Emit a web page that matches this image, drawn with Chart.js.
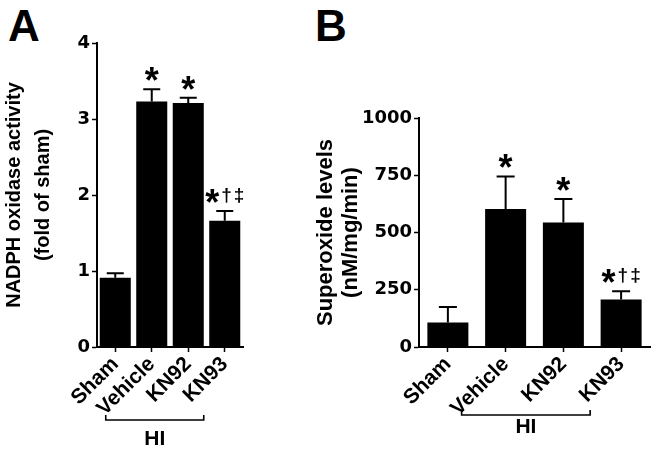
<!DOCTYPE html>
<html>
<head>
<meta charset="utf-8">
<script src="https://cdn.jsdelivr.net/npm/chart.js@4.4.1/dist/chart.umd.min.js"></script>
<style>
  html, body { margin: 0; padding: 0; background: #fff; }
  body { width: 657px; height: 452px; position: relative; overflow: hidden;
         font-family: "Liberation Sans", Arial, sans-serif; }
  .letter { position: absolute; top: 4px; font-weight: bold; font-size: 44px; line-height: 1; color: #000; }
  .wrap { position: absolute; top: 0; height: 452px; }
  #wrapA { left: 0; width: 320px; }
  #wrapB { left: 310px; width: 347px; }
</style>
</head>
<body>
<div class="letter" style="left:8px">A</div>
<div class="letter" style="left:315px">B</div>
<div class="wrap" id="wrapA"><canvas id="chartA" width="320" height="452"></canvas></div>
<div class="wrap" id="wrapB"><canvas id="chartB" width="347" height="452"></canvas></div>

<script>
// groups on the x axis
const GROUPS = ['Sham', 'Vehicle', 'KN92', 'KN93'];

// panel A - NADPH oxidase activity (fold of sham)
const NADPH_MEAN  = [0.91, 3.23, 3.21, 1.66];
const NADPH_SEM   = [0.06, 0.16, 0.07, 0.13];
const NADPH_MARKS = ['', '*', '*', '*†‡'];
const NADPH_TICKS = [0, 1, 2, 3, 4];

// panel B - superoxide levels (nM/mg/min)
const SUPEROXIDE_MEAN  = [107, 603, 544, 207];
const SUPEROXIDE_SEM   = [68, 142, 102, 36];
const SUPEROXIDE_MARKS = ['', '*', '*', '*†‡'];
const SUPEROXIDE_TICKS = [0, 250, 500, 750, 1000];

const BRACKET_LABEL = 'HI';
const FONT = '"Liberation Sans", Arial, sans-serif';

// error bars (upper half only), significance marks and the HI bracket
const extras = {
  id: 'extras',
  afterDatasetsDraw(chart, _args, o) {
    const { ctx, chartArea: a, scales: { x, y } } = chart;
    const meta = chart.getDatasetMeta(0);
    ctx.save();
    ctx.strokeStyle = '#000';
    ctx.fillStyle = '#000';
    ctx.lineWidth = 2;
    o.means.forEach((m, i) => {
      const cx = meta.data[i].x;
      const top = y.getPixelForValue(m + o.errors[i]);
      ctx.beginPath();
      ctx.moveTo(cx, y.getPixelForValue(m));
      ctx.lineTo(cx, top);
      ctx.moveTo(cx - o.cap / 2, top);
      ctx.lineTo(cx + o.cap / 2, top);
      ctx.stroke();
      if (o.marks[i]) drawMarks(ctx, o.marks[i], cx, top - o.markGap, o);
    });

    // bracket under the rotated labels
    const b = o.bracket;
    const x0 = x.getPixelForValue(b.from) + b.dxLeft;
    const x1 = x.getPixelForValue(b.to) + b.dxRight;
    const by = a.bottom + b.dy;
    ctx.lineWidth = 1.6;
    ctx.beginPath();
    ctx.moveTo(x0, by - b.tip);
    ctx.lineTo(x0, by);
    ctx.lineTo(x1, by);
    ctx.lineTo(x1, by - b.tip);
    ctx.stroke();
    ctx.font = `bold ${b.fontSize}px ${FONT}`;
    ctx.textAlign = 'center';
    ctx.textBaseline = 'alphabetic';
    ctx.fillText(BRACKET_LABEL, (x0 + x1) / 2 + b.labelDx, a.bottom + b.labelDy);
    ctx.restore();
  }
};

function drawMarks(ctx, text, cx, bottom, o) {
  const parts = [...text].map(ch => ({
    ch, font: ch === '*' ? `bold ${o.starSize}px ${FONT}` : `bold ${o.daggerSize}px ${FONT}`
  }));
  let total = 0;
  parts.forEach((p, i) => {
    ctx.font = p.font;
    const m = ctx.measureText(p.ch);
    p.w = m.width;
    p.desc = m.actualBoundingBoxDescent;
    total += p.w + (i ? o.markSpacing : 0);
  });
  ctx.textAlign = 'left';
  ctx.textBaseline = 'alphabetic';
  let xx = cx - total / 2;
  parts.forEach(p => {
    ctx.font = p.font;
    ctx.fillText(p.ch, xx, bottom - p.desc);
    xx += p.w + o.markSpacing;
  });
}

function makeChart(id, cfg) {
  return new Chart(document.getElementById(id), {
    type: 'bar',
    data: {
      labels: GROUPS,
      datasets: [{
        data: cfg.means,
        backgroundColor: '#000',
        borderWidth: 0,
        barPercentage: cfg.barPct,
        categoryPercentage: 1
      }]
    },
    options: {
      responsive: false,
      animation: false,
      events: [],
      layout: { padding: cfg.padding },
      plugins: {
        legend: { display: false },
        tooltip: { enabled: false },
        extras: {
          means: cfg.means, errors: cfg.errors, marks: cfg.marks,
          cap: cfg.cap, markGap: 8, markSpacing: 2,
          starSize: 36, daggerSize: 19,
          bracket: cfg.bracket
        }
      },
      scales: {
        x: {
          offset: true,
          afterFit: s => { s.height = cfg.xHeight; },
          border: { display: true, color: '#000', width: 2 },
          grid: { display: true, offset: false, drawOnChartArea: false, drawTicks: true,
                  tickLength: 5, tickWidth: 1.5, tickColor: '#000' },
          ticks: { color: '#000', autoSkip: false, minRotation: 45, maxRotation: 45, padding: 0,
                   font: { family: FONT, weight: 'bold', size: 21 } }
        },
        y: {
          min: cfg.ticks[0],
          max: cfg.ticks[cfg.ticks.length - 1],
          afterFit: s => { s.width = cfg.yWidth; },
          afterBuildTicks: s => { s.ticks = cfg.ticks.map(v => ({ value: v })); },
          border: { display: true, color: '#000', width: 2 },
          grid: { display: true, drawOnChartArea: false, drawTicks: true,
                  tickLength: 5, tickWidth: 1.5, tickColor: '#000' },
          ticks: { color: '#000', padding: 2, callback: v => String(v),
                   font: { family: '"DejaVu Sans", sans-serif', weight: 'bold', size: 18 } },
          title: {
            display: true, text: cfg.title, color: '#000',
            padding: { top: cfg.titlePad, bottom: 0 },
            font: { family: FONT, weight: 'bold', size: cfg.titleSize, lineHeight: cfg.titleLH }
          }
        }
      }
    },
    plugins: [extras]
  });
}

makeChart('chartA', {
  means: NADPH_MEAN, errors: NADPH_SEM, marks: NADPH_MARKS, ticks: NADPH_TICKS,
  title: ['NADPH oxidase activity', '(fold of sham)'],
  titleSize: 20, titleLH: 1.45, titlePad: 0,
  padding: { left: 0, right: 77, top: 43, bottom: 0 },
  yWidth: 97, xHeight: 105, barPct: 0.85, cap: 17,
  bracket: { from: 1, to: 3, dxLeft: -46, dxRight: -21, dy: 73, tip: 5,
             fontSize: 21, labelDx: 0, labelDy: 98 }
});

makeChart('chartB', {
  means: SUPEROXIDE_MEAN, errors: SUPEROXIDE_SEM, marks: SUPEROXIDE_MARKS, ticks: SUPEROXIDE_TICKS,
  title: ['Superoxide levels', '(nM/mg/min)'],
  titleSize: 22, titleLH: 1.16, titlePad: 3,
  padding: { left: 0, right: 7, top: 118, bottom: 0 },
  yWidth: 109, xHeight: 105, barPct: 0.71, cap: 18,
  bracket: { from: 1, to: 3, dxLeft: -44, dxRight: -31, dy: 68, tip: 5,
             fontSize: 21, labelDx: 0, labelDy: 86 }
});
</script>
</body>
</html>
